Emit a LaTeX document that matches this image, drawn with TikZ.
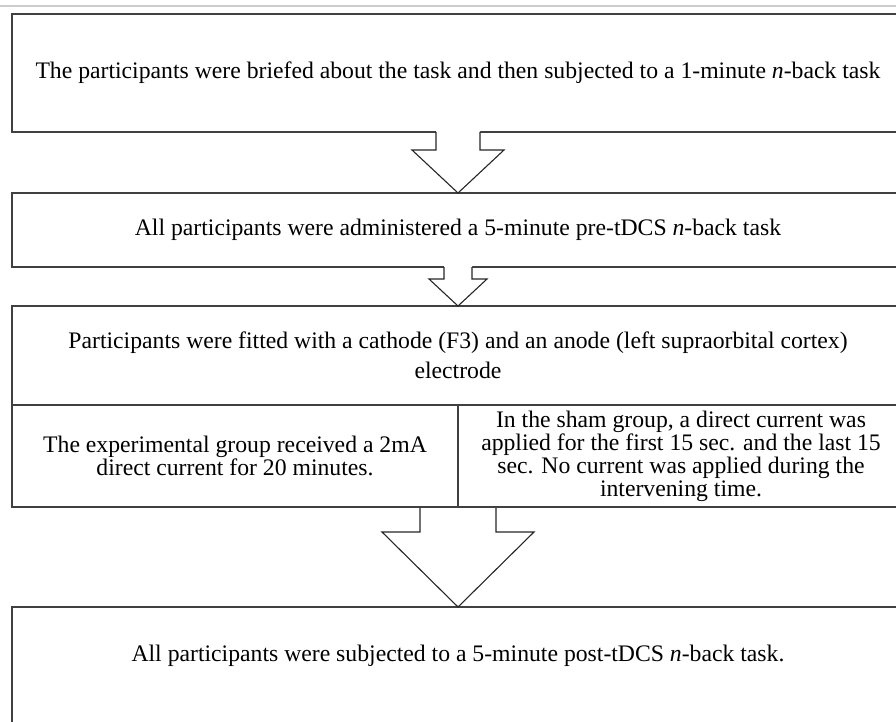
\documentclass[tikz,border=0pt]{standalone}
\usepackage{fontspec}
\setmainfont{Liberation Serif}
\usetikzlibrary{calc}

% block arrow: start point, target node, half shaft, half head, shaft length
\newcommand{\blockarrow}[5]{%
\fill[white] ($#1+(-#3,-1)$) -- ($#1+(-#3,#5)$) -- ($#1+(-#4,#5)$) -- (#2.north)
  -- ($#1+(#4,#5)$) -- ($#1+(#3,#5)$) -- ($#1+(#3,-1)$) -- cycle;
\draw[arrowline] ($#1+(-#3,0)$) -- ($#1+(-#3,#5)$) -- ($#1+(-#4,#5)$) -- (#2.north)
  -- ($#1+(#4,#5)$) -- ($#1+(#3,#5)$) -- ($#1+(#3,0)$);}

\begin{document}
\begin{tikzpicture}[x=1pt,y=-1pt,
  box/.style={draw=black!75,line width=1.2pt,inner sep=0pt,outer sep=0pt,
    minimum width=892pt,align=center,font=\fontsize{23.7}{21}\selectfont},
  cell/.style={box,minimum width=446pt,minimum height=102pt,font=\fontsize{23.7}{23}\selectfont},
  arrowline/.style={black!85,line width=1.1pt,line join=miter}]
\useasboundingbox (0,0) rectangle (896,722);
\clip (0,0) rectangle (896,722);
\draw[black!20,line width=1.5pt] (0,6)--(896,6);
\node[box,minimum height=118pt] (b1) at (458,73) {The participants were briefed about the task and then subjected to a 1-minute \textit{n}-back task};
\node[box,minimum height=74pt] (b2) at (458,230) {All participants were administered a 5-minute pre-tDCS \textit{n}-back task};
\node[box,minimum height=99pt] (b3h) at (458,355.5) {Participants were fitted with a cathode (F3) and an anode (left supraorbital cortex)\\[8pt]electrode};
\node[cell] (b3l) at (235,456) {The experimental group received a 2mA\\direct current for 20 minutes.};
\node[cell] (b3r) at (681,456) {In the sham group, a direct current was\\applied for the first 15 sec. and the last 15\\sec. No current was applied during the\\intervening time.};
\node[box,minimum height=160pt,anchor=north] (b4) at (458,607) {};
\node[font=\fontsize{23.7}{21}\selectfont] (t4) at (458,656) {All participants were subjected to a 5-minute post-tDCS \textit{n}-back task.};
\blockarrow{(b1.south)}{b2}{22}{46}{18}
\blockarrow{(b2.south)}{b3h}{14}{29}{12}
\blockarrow{(b3l.south east)}{b4}{38}{76}{25}
\draw[black!75,line width=1.2pt] (b3l.south west)--(b3r.south east);
\end{tikzpicture}
\end{document}
